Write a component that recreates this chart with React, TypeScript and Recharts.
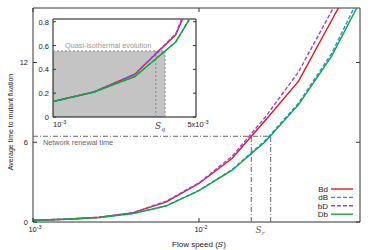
import { LineChart, Line, XAxis, YAxis, ReferenceLine, ReferenceArea } from 'recharts';

// flow speeds, 0.2 decade apart
const speeds = [0.001, 0.001585, 0.002512, 0.003981, 0.00631, 0.01, 0.01585, 0.02512, 0.03981, 0.0631, 0.1];
const bdTimes = [0.13, 0.21, 0.36, 0.69, 1.5, 2.9, 4.8, 7.65, 10.6, 15.2, 19.7];
const dBTimes = [0.13, 0.21, 0.34, 0.63, 1.21, 2.38, 3.95, 6.15, 8.95, 12.7, 17.8];
const bDTimes = [0.13, 0.21, 0.36, 0.7, 1.55, 2.95, 4.95, 7.9, 11.3, 15.9, 20.5];
const dbTimes = [0.13, 0.21, 0.34, 0.63, 1.2, 2.36, 3.9, 6.06, 8.83, 12.5, 17.3];

const mainXTicks = [0.001, 0.01];
const mainYTicks = [0, 6, 12];
const insetXTicks = [0.001, 0.005];
const insetYTicks = [0, 0.2, 0.4, 0.6, 0.8];

const renewalTime = 6.45;
const srLow = 0.02065;
const srHigh = 0.02703;
const quasiLevel = 0.555;
const sqLow = 0.00318;
const sqHigh = 0.00353;

const series = [
  { key: 'Bd', color: '#e8141c', dash: undefined },
  { key: 'dB', color: '#1e90ff', dash: '4 2' },
  { key: 'bD', color: '#9b40f0', dash: '4 2' },
  { key: 'Db', color: '#10a838', dash: undefined },
];

const data = speeds.map((s, i) => ({
  speed: s,
  Bd: bdTimes[i],
  dB: dBTimes[i],
  bD: bDTimes[i],
  Db: dbTimes[i],
}));

const FONT = '"Liberation Sans", Arial, sans-serif';
const FRAME = '#333';

const MAIN_X = [0.001, 0.0933];
const MAIN_Y = [0, 16.1];
const INSET_X = [0.001, 0.005];
const INSET_Y = [0, 0.823];

// main plot box: x 33..360, y 8..222
const MainYTick = ({ x, y, payload }: any) => (
  <g>
    <line x1={x} x2={x + 4} y1={y} y2={y} stroke={FRAME} />
    <line x1={356} x2={360} y1={y} y2={y} stroke={FRAME} />
    <text x={x - 5} y={y + 3} textAnchor="end" fontSize={7.5} fill="#222" fontFamily={FONT}>
      {payload.value}
    </text>
  </g>
);

const MainXTick = ({ x, y, payload }: any) => {
  const exp = Math.round(Math.log10(payload.value));
  return (
    <g>
      <line x1={x} x2={x} y1={y} y2={y - 4} stroke={FRAME} />
      <line x1={x} x2={x} y1={8} y2={12} stroke={FRAME} />
      <text x={x + 2} y={y + 10} textAnchor="middle" fontSize={7.5} fill="#222" fontFamily={FONT}>
        10<tspan dy={-3} fontSize={5.5}>{exp}</tspan>
      </text>
    </g>
  );
};

// inset box: x 53..196, y 19..117
const InsetYTick = ({ x, y, payload }: any) => (
  <g>
    <line x1={x} x2={x + 3} y1={y} y2={y} stroke={FRAME} />
    <line x1={193} x2={196} y1={y} y2={y} stroke={FRAME} />
    <text x={x - 4} y={y + 3} textAnchor="end" fontSize={7.5} fill="#222" fontFamily={FONT}>
      {payload.value === 0 ? '0' : payload.value.toFixed(1)}
    </text>
  </g>
);

const InsetXTick = ({ x, y, payload }: any) => {
  const first = payload.value === insetXTicks[0];
  return (
    <text x={first ? x : x + 2} y={y + 10} textAnchor={first ? 'start' : 'middle'} fontSize={7.5} fill="#222" fontFamily={FONT}>
      {first ? '10' : '5x10'}
      <tspan dy={-3} fontSize={5.5}>-3</tspan>
    </text>
  );
};

export default function App() {
  return (
    <div style={{ position: 'absolute', left: 0, top: 0, width: 374, height: 250, background: '#fff', fontFamily: FONT }}>
      <div style={{ position: 'absolute', left: 0, top: 0 }}>
        <LineChart width={374} height={250} data={data} margin={{ top: 8, right: 14, bottom: 0, left: 0 }}>
          <XAxis
            dataKey="speed"
            type="number"
            scale="log"
            domain={MAIN_X}
            allowDataOverflow
            ticks={mainXTicks}
            tick={<MainXTick />}
            tickLine={false}
            tickSize={0}
            tickMargin={0}
            axisLine={false}
            height={28}
            interval={0}
          />
          <YAxis
            type="number"
            domain={MAIN_Y}
            allowDataOverflow
            ticks={mainYTicks}
            tick={<MainYTick />}
            tickLine={false}
            tickSize={0}
            tickMargin={0}
            axisLine={false}
            width={33}
            interval={0}
          />
          <ReferenceLine
            segment={[{ x: MAIN_X[0], y: renewalTime }, { x: srHigh, y: renewalTime }]}
            stroke="#555"
            strokeDasharray="5 2 1 2"
            strokeWidth={0.9}
          />
          <ReferenceLine
            segment={[{ x: srLow, y: 0 }, { x: srLow, y: renewalTime }]}
            stroke="#555"
            strokeDasharray="5 2 1 2"
            strokeWidth={0.9}
          />
          <ReferenceLine
            segment={[{ x: srHigh, y: 0 }, { x: srHigh, y: renewalTime }]}
            stroke="#555"
            strokeDasharray="5 2 1 2"
            strokeWidth={0.9}
          />
          {series.map((s) => (
            <Line
              key={s.key}
              dataKey={s.key}
              stroke={s.color}
              strokeWidth={1.4}
              strokeDasharray={s.dash}
              dot={false}
              activeDot={false}
              isAnimationActive={false}
            />
          ))}
          <ReferenceArea x1={MAIN_X[0]} x2={MAIN_X[1]} y1={MAIN_Y[0]} y2={MAIN_Y[1]} fill="none" stroke={FRAME} strokeWidth={1} />
        </LineChart>
      </div>

      {/* inset */}
      <div style={{ position: 'absolute', left: 53, top: 19, width: 143, height: 98, background: '#fff' }} />
      <div style={{ position: 'absolute', left: 0, top: 0 }}>
        <LineChart width={224} height={130} data={data} margin={{ top: 19, right: 28, bottom: 0, left: 33 }}>
          <XAxis
            dataKey="speed"
            type="number"
            scale="log"
            domain={INSET_X}
            allowDataOverflow
            ticks={insetXTicks}
            tick={<InsetXTick />}
            tickLine={false}
            tickSize={0}
            tickMargin={0}
            axisLine={false}
            height={13}
            interval={0}
          />
          <YAxis
            type="number"
            domain={INSET_Y}
            allowDataOverflow
            ticks={insetYTicks}
            tick={<InsetYTick />}
            tickLine={false}
            tickSize={0}
            tickMargin={0}
            axisLine={false}
            width={20}
            interval={0}
          />
          <ReferenceArea x1={INSET_X[0]} x2={sqHigh} y1={0} y2={quasiLevel} fill="#c4c4c4" fillOpacity={1} stroke="none" />
          <ReferenceLine
            segment={[{ x: INSET_X[0], y: quasiLevel }, { x: sqHigh, y: quasiLevel }]}
            stroke="#888"
            strokeDasharray="2 2"
          />
          <ReferenceLine segment={[{ x: sqLow, y: 0 }, { x: sqLow, y: quasiLevel }]} stroke="#888" strokeDasharray="2 2" />
          <ReferenceLine segment={[{ x: sqHigh, y: 0 }, { x: sqHigh, y: quasiLevel }]} stroke="#888" strokeDasharray="2 2" />
          {series.map((s) => (
            <Line
              key={s.key}
              dataKey={s.key}
              stroke={s.color}
              strokeWidth={1.4}
              strokeDasharray={s.dash}
              dot={false}
              activeDot={false}
              isAnimationActive={false}
            />
          ))}
          <ReferenceArea x1={INSET_X[0]} x2={INSET_X[1]} y1={INSET_Y[0]} y2={INSET_Y[1]} fill="none" stroke="#111" strokeWidth={1} />
        </LineChart>
      </div>

      {/* annotations, titles, legend */}
      <svg width={374} height={250} style={{ position: 'absolute', left: 0, top: 0, pointerEvents: 'none' }} fontFamily={FONT}>
        <text x={43} y={145} fontSize={7.3} fill="#666">Network renewal time</text>
        <text x={65} y={48} fontSize={7.3} fill="#999">Quasi-isothermal evolution</text>
        <text x={160} y={129} fontSize={9} fill="#444" fontFamily="'DejaVu Serif', serif" fontStyle="italic" textAnchor="middle">
          S<tspan dy={2} fontSize={6}>q</tspan>
        </text>
        <text x={260} y={233} fontSize={9} fill="#666" fontFamily="'DejaVu Serif', serif" fontStyle="italic" textAnchor="middle">
          S<tspan dy={2} fontSize={6}>r</tspan>
        </text>
        <text x={199} y={247} fontSize={8} fill="#222" textAnchor="middle">
          Flow speed (<tspan fontFamily="'DejaVu Serif', serif" fontStyle="italic">S</tspan>)
        </text>
        <text x={13} y={122} fontSize={7} fill="#222" textAnchor="middle" transform="rotate(-90 13 122)">
          Average time to mutant fixation
        </text>
        {series.map((s, i) => (
          <g key={s.key}>
            <text x={328} y={192 + i * 8.4} fontSize={8} fill="#222" textAnchor="end">{s.key}</text>
            <line x1={331} x2={353} y1={189 + i * 8.4} y2={189 + i * 8.4} stroke={s.color} strokeWidth={1.4} strokeDasharray={s.dash} />
          </g>
        ))}
      </svg>
    </div>
  );
}
